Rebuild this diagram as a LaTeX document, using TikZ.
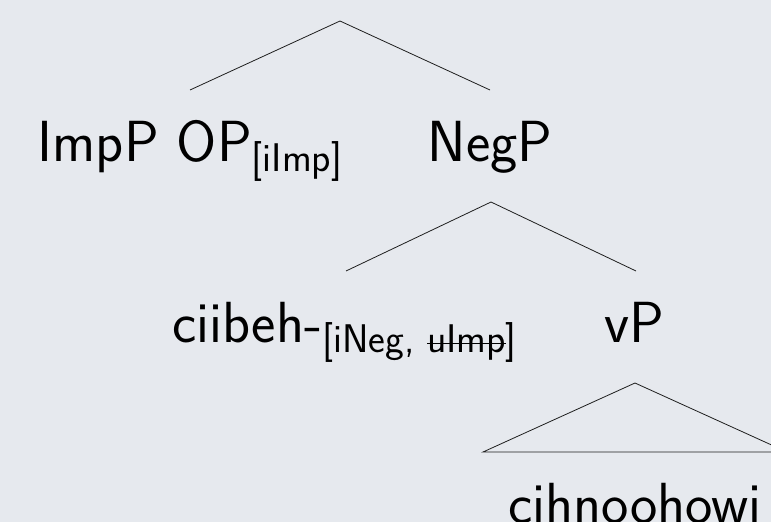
\documentclass[tikz,border=0pt]{standalone}
\definecolor{bgc}{RGB}{230,233,238}
\definecolor{linec}{RGB}{30,30,30}
\newcommand{\mainsz}{\fontsize{58}{70}\selectfont}
\newcommand{\subf}[1]{\raisebox{-10pt}{\fontsize{40}{48}\selectfont #1}}
\newcommand{\strk}[1]{\setbox0\hbox{#1}\rlap{\raisebox{0.45ex}{\rule{\wd0}{1.2pt}}}\box0}
\begin{document}
\begin{tikzpicture}[x=1pt,y=-1pt,
  lbl/.style={anchor=base, inner sep=0pt, font=\sffamily\mainsz},
  branch/.style={draw=linec, line width=0.8pt}]
\fill[bgc] (0,0) rectangle (771,522);
\useasboundingbox (0,0) rectangle (771,522);
\clip (0,0) rectangle (771,522);
% labels
\node[lbl] (op) at (190,161) {ImpP OP\subf{[iImp]}};
\node[lbl] (negp) at (490,161) {NegP};
\node[lbl] (ciibeh) at (344.5,342) {ciibeh-\subf{[iNeg, \strk{uImp}]}};
\node[lbl] (vp) at (634,342) {vP};
\node[lbl] (cih) at (635,523) {cihnoohowi};
% branch points
\coordinate (r0) at (340,21);
\coordinate (r0l) at (190,90);
\coordinate (r0r) at (490,90);
\coordinate (r1) at (491,202);
\coordinate (r1l) at (346,271);
\coordinate (r1r) at (636,271);
\coordinate (r2) at (635,383);
\coordinate (r2l) at (483,452);
\coordinate (r2r) at (787,452);
\draw[branch] (r0l) -- (r0) -- (r0r);
\draw[branch] (r1l) -- (r1) -- (r1r);
\draw[branch] (r2l) -- (r2) -- (r2r) -- cycle;
\end{tikzpicture}
\end{document}
